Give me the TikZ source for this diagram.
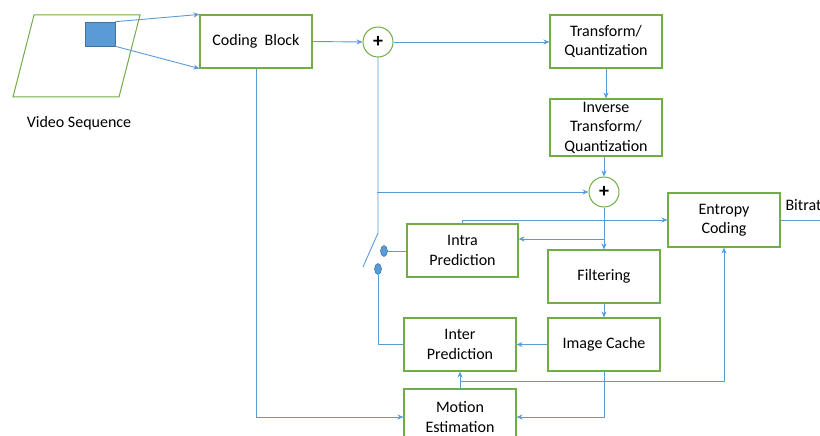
\documentclass[tikz,border=0pt]{standalone}
\usepackage{fontspec}
\setmainfont{Carlito}
\usetikzlibrary{arrows.meta,shapes.geometric}
\definecolor{lblue}{HTML}{5B9BD5}
\definecolor{dblue}{HTML}{41719C}
\definecolor{lgreen}{HTML}{70AD47}
\begin{document}
\begin{tikzpicture}[x=1pt,y=-1pt,
  box/.style={draw=lgreen,line width=1.1pt,minimum width=112pt,minimum height=53pt,align=center,inner sep=0pt,font=\fontsize{16}{19.5}\selectfont},
  sumnode/.style={circle,draw=lgreen,line width=1pt,minimum size=30pt,inner sep=0pt,font=\fontsize{20}{20}\selectfont\bfseries},
  conn/.style={draw=lblue,line width=0.9pt},
  arr/.style={conn,-{Stealth[length=6pt,width=5pt]}},
  contact/.style={ellipse,fill=lblue,draw=dblue,line width=0.5pt,minimum width=7pt,minimum height=11pt,inner sep=0pt}]
\clip (0,0) rectangle (820,436);
% video sequence
\draw[lgreen,line width=1pt] (34,15) -- (140,15) -- (119,97) -- (13,97) -- cycle;
\node[draw=dblue,fill=lblue,line width=0.6pt,minimum width=30pt,minimum height=24pt,inner sep=0pt] (blk) at (100,34) {};
\node[font=\fontsize{16}{19.5}\selectfont] (vs) at (79,123) {Video Sequence};
% boxes
\node[box] (cb) at (256,41.5) {Coding\ \ Block};
\node[box] (tq) at (606,41.5) {Transform/\\Quantization};
\node[box,minimum height=57pt] (itq) at (606,127.5) {Inverse\\Transform/\\Quantization};
\node[box,minimum width=111pt] (intra) at (462.5,250.5) {Intra\\Prediction};
\node[box] (filt) at (604,276.5) {Filtering};
\node[box,minimum height=54pt] (ent) at (724,220) {Entropy\\Coding};
\node[box] (cache) at (604,344.5) {Image Cache};
\node[box] (inter) at (460,344.5) {Inter\\Prediction};
\node[box,minimum height=56pt] (me) at (460,417) {Motion\\Estimation};
\node[sumnode] (c1) at (378,42) {+};
\node[sumnode] (c2) at (604,192) {+};
\node[contact] (k1) at (384,251) {};
\node[contact] (k2) at (378,269) {};
\coordinate (sw1) at (378,233);
\coordinate (sw2) at (363,267);
\coordinate (br1) at (377,192);
\coordinate (out) at (820,220);
\node[anchor=west,font=\fontsize{16}{19.5}\selectfont] (br) at (782,205) {Bitrate};
% connectors
\draw[arr] (blk.north east) -- (cb.north west);
\draw[arr] (blk.south east) -- (cb.south west);
\draw[arr] (cb.east) -- (c1.west);
\draw[arr] (c1.east) -- (c1.east -| tq.west);
\draw[arr] (tq.south) -- (itq.north);
\draw[arr] (c2.north |- itq.south) -- (c2.north);
\draw[conn] (c1.south) -- (sw1) -- (sw2);
\draw[arr] (br1) -- (c2.west);
\draw[arr] (c2.south) -- (filt.north);
\draw[arr] (c2.south |- 0,239) -- (intra.east |- 0,239);
\draw[arr] (intra.north) -- (intra.north |- 0,220) -- (ent.west |- 0,220);
\draw[conn] (ent.east) -- (out);
\draw[conn] (k1) -- (k1 -| intra.west);
\draw[conn] (k2) -- (k2 |- inter.west) -- (inter.west);
\draw[arr] (cb.south) -- (cb.south |- me.west) -- (me.west);
\draw[arr] (filt.south) -- (cache.north);
\draw[arr] (cache.west) -- (inter.east);
\draw[arr] (cache.south) -- (cache.south |- me.east) -- (me.east);
\draw[arr] (me.north) -- (inter.south);
\draw[arr] (me.north |- 0,381) -- (ent.south |- 0,381) -- (ent.south);
\end{tikzpicture}
\end{document}
